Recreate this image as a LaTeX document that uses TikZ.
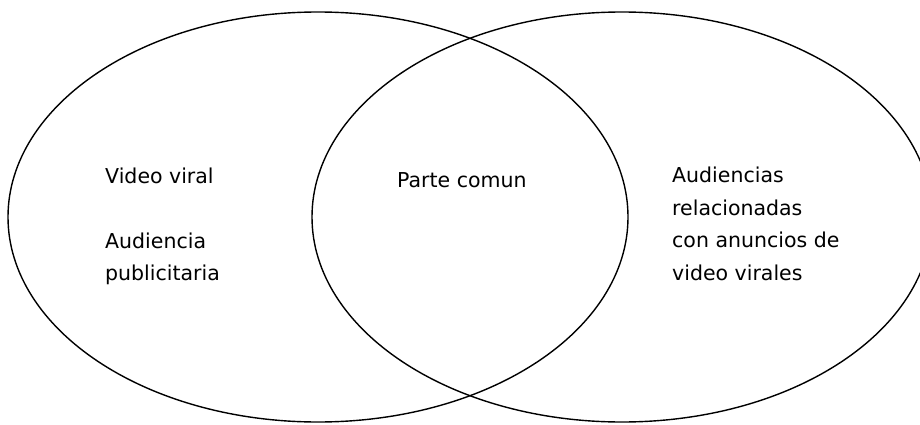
\documentclass[tikz,border=0pt]{standalone}
\usepackage{fontspec}
\setmainfont{DejaVu Sans}
\usetikzlibrary{shapes.geometric}
\begin{document}
\begin{tikzpicture}[x=1pt,y=-1pt,
  setbox/.style={draw=black, line width=1.4pt, ellipse, inner sep=0pt, minimum width=620pt, minimum height=410pt},
  lbl/.style={anchor=base west, inner sep=0pt, font=\fontsize{20.5pt}{24pt}\selectfont}]
\useasboundingbox (0,0) rectangle (920,425);
\begin{scope}
\clip (0,0) rectangle (920,425);
\node[setbox] (left) at (318,217) {};
\node[setbox] (right) at (622,217) {};
\end{scope}
\node[lbl] (a1) at (105,183) {Video viral};
\node[lbl] (a2) at (105,248) {Audiencia};
\node[lbl] (a3) at (105,280) {publicitaria};
\node[lbl] (b) at (397,187) {Parte comun};
\node[lbl] (c1) at (672,182) {Audiencias};
\node[lbl] (c2) at (672,215) {relacionadas};
\node[lbl] (c3) at (672,247) {con anuncios de};
\node[lbl] (c4) at (672,280) {video virales};
\end{tikzpicture}
\end{document}
